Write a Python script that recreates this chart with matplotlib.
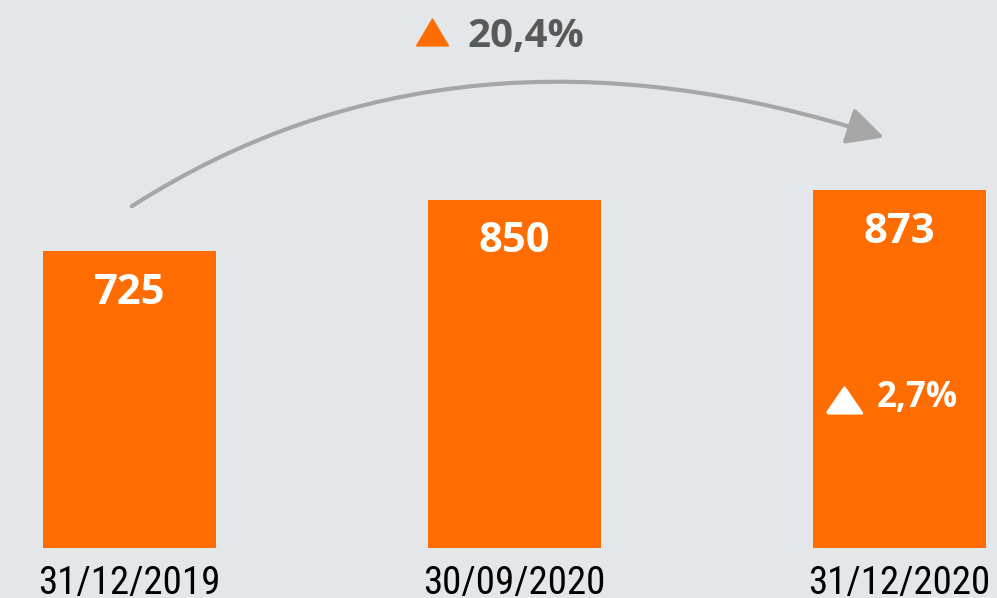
import matplotlib
matplotlib.use('Agg')
import matplotlib.pyplot as plt
from matplotlib.path import Path
from matplotlib.patches import FancyArrowPatch
from matplotlib.lines import Line2D
from matplotlib.markers import MarkerStyle

# data
dates = ['31/12/2019', '30/09/2020', '31/12/2020']
values = [725, 850, 873]
growth_total = '20,4%'
growth_quarter = '2,7%'

ORANGE = '#FF6D00'
BG = '#E4E7EA'
GREY_TXT = '#595959'
GREY_ARROW = '#A6A6A6'
W, H = 997, 598

fig = plt.figure(figsize=(W / 100, H / 100), dpi=100, facecolor=BG)
ax = fig.add_axes([0, 50 / H, 1, 548 / H])
ax.set_facecolor(BG)

x = list(range(len(values)))
ax.bar(x, values, width=0.45, color=ORANGE)
ax.set_xlim(-0.336, 2.253)
ax.set_ylim(0, 1337)
for s in ax.spines.values():
    s.set_visible(False)
ax.set_yticks([])
ax.set_xticks(x)
ax.set_xticklabels(dates, fontsize=28, color='black',
                   family=['Roboto Condensed', 'PT Sans Narrow', 'DejaVu Sans'])
ax.tick_params(axis='x', length=0, pad=12)

# value labels inside bars
for xi, v in zip(x, values):
    ax.annotate(str(v), (xi, v), xytext=(0, -38), textcoords='offset points',
                ha='center', va='baseline', color='white', fontsize=30,
                fontweight='bold', family='Open Sans')

# curved arrow from first to last bar
verts = [(0.0065, 834), (0.845, 1338), (1.96, 1002)]
codes = [Path.MOVETO, Path.CURVE3, Path.CURVE3]
arrow = FancyArrowPatch(path=Path(verts, codes),
                        arrowstyle='-|>,head_length=0.75,head_width=0.38',
                        mutation_scale=30, color=GREY_ARROW, lw=3,
                        capstyle='round', clip_on=False)
ax.add_patch(arrow)

# triangles
tri = MarkerStyle([(-1, -0.84), (1, -0.84), (0, 0.84), (-1, -0.84)], joinstyle='round')
tri2 = MarkerStyle([(-1, -0.73), (1, -0.73), (0, 0.73), (-1, -0.73)], joinstyle='round')
fig.add_artist(Line2D([432 / W], [1 - 32 / H], transform=fig.transFigure,
                      marker=tri, markersize=23, color=ORANGE, linestyle='none'))
fig.add_artist(Line2D([843.5 / W], [1 - 399.5 / H], transform=fig.transFigure,
                      marker=tri2, markersize=25, color='white', mew=2,
                      markeredgecolor='white', linestyle='none'))

fig.text(467 / W, 1 - 47 / H, growth_total, ha='left', va='baseline',
         fontsize=29, fontweight='bold', color=GREY_TXT, family='Open Sans')
fig.text(877 / W, 1 - 407 / H, growth_quarter, ha='left', va='baseline',
         fontsize=25, fontweight='bold', color='white', family='Open Sans')

fig.savefig('out.png', facecolor=BG)
